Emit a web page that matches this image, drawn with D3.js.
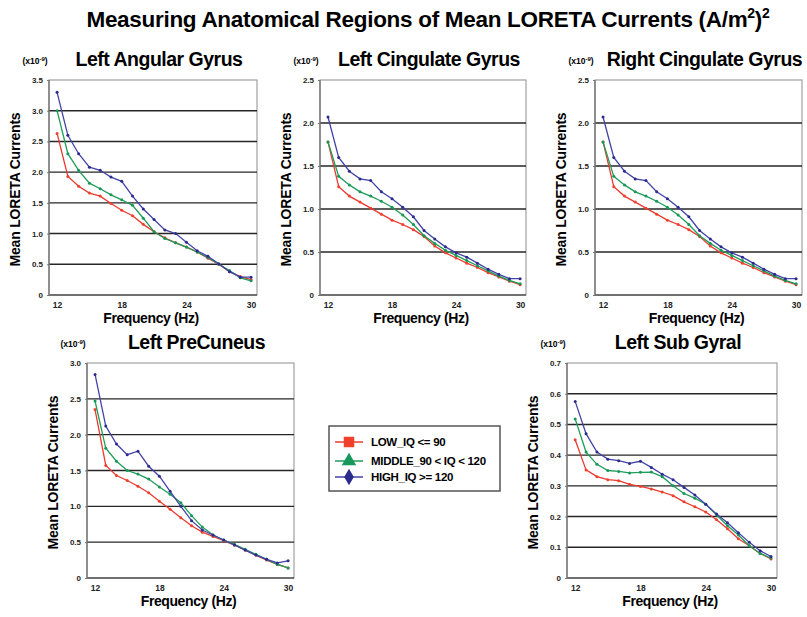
<!DOCTYPE html>
<html>
<head>
<meta charset="utf-8">
<script src="https://cdn.jsdelivr.net/npm/d3@7"></script>
<style>
  body { margin: 0; background: #fff; }
  text { font-family: "Liberation Sans", Arial, sans-serif; }
</style>
</head>
<body>
<div id="chart"></div>
<script>
var freqs = [12, 13, 14, 15, 16, 17, 18, 19, 20, 21, 22, 23, 24, 25, 26, 27, 28, 29, 30],
  xTicks = [12, 18, 24, 30],
  groups = ['LOW_IQ <= 90', 'MIDDLE_90 < IQ < 120', 'HIGH_IQ >= 120'],
  regions = ['Left Angular Gyrus', 'Left Cingulate Gyrus', 'Right Cingulate Gyrus', 'Left PreCuneus', 'Left Sub Gyral'];

// LOW, MIDDLE, HIGH per region
var angularLow = [2.63, 1.93, 1.77, 1.66, 1.61, 1.49, 1.38, 1.29, 1.15, 1.03, 0.93, 0.85, 0.78, 0.70, 0.60, 0.50, 0.38, 0.30, 0.25],
  angularMid = [3.00, 2.30, 2.03, 1.82, 1.73, 1.63, 1.55, 1.46, 1.25, 1.03, 0.92, 0.85, 0.78, 0.70, 0.61, 0.50, 0.40, 0.28, 0.23],
  angularHigh = [3.30, 2.60, 2.30, 2.08, 2.03, 1.92, 1.85, 1.61, 1.40, 1.23, 1.06, 1.00, 0.86, 0.72, 0.63, 0.51, 0.38, 0.29, 0.29];

var lCingLow = [1.78, 1.26, 1.15, 1.08, 1.01, 0.94, 0.87, 0.82, 0.76, 0.68, 0.57, 0.49, 0.43, 0.37, 0.32, 0.26, 0.21, 0.16, 0.12],
  lCingMid = [1.78, 1.38, 1.28, 1.20, 1.15, 1.09, 1.02, 0.93, 0.82, 0.69, 0.60, 0.52, 0.46, 0.40, 0.34, 0.28, 0.22, 0.17, 0.13],
  lCingHigh = [2.07, 1.60, 1.44, 1.35, 1.33, 1.20, 1.12, 1.02, 0.91, 0.75, 0.65, 0.56, 0.49, 0.44, 0.37, 0.30, 0.24, 0.19, 0.19];

var rCingLow = [1.78, 1.26, 1.15, 1.08, 1.01, 0.94, 0.87, 0.82, 0.76, 0.68, 0.57, 0.49, 0.43, 0.37, 0.32, 0.26, 0.21, 0.16, 0.12],
  rCingMid = [1.78, 1.38, 1.28, 1.20, 1.15, 1.09, 1.02, 0.93, 0.82, 0.69, 0.60, 0.52, 0.46, 0.40, 0.34, 0.28, 0.22, 0.17, 0.13],
  rCingHigh = [2.07, 1.60, 1.44, 1.35, 1.33, 1.20, 1.12, 1.02, 0.91, 0.75, 0.65, 0.56, 0.49, 0.44, 0.37, 0.30, 0.24, 0.19, 0.19];

var precunLow = [2.35, 1.57, 1.43, 1.36, 1.28, 1.19, 1.07, 0.96, 0.84, 0.73, 0.64, 0.58, 0.52, 0.46, 0.39, 0.32, 0.25, 0.19, 0.14],
  precunMid = [2.47, 1.81, 1.63, 1.50, 1.45, 1.38, 1.27, 1.17, 1.05, 0.87, 0.71, 0.60, 0.53, 0.47, 0.40, 0.33, 0.26, 0.19, 0.14],
  precunHigh = [2.84, 2.12, 1.87, 1.72, 1.77, 1.56, 1.42, 1.21, 1.00, 0.80, 0.67, 0.60, 0.53, 0.46, 0.39, 0.32, 0.26, 0.21, 0.24];

var subLow = [0.450, 0.352, 0.330, 0.320, 0.317, 0.305, 0.298, 0.290, 0.280, 0.268, 0.248, 0.232, 0.215, 0.190, 0.160, 0.128, 0.105, 0.080, 0.062],
  subMid = [0.518, 0.410, 0.370, 0.350, 0.347, 0.342, 0.344, 0.345, 0.330, 0.300, 0.275, 0.260, 0.240, 0.205, 0.170, 0.140, 0.105, 0.080, 0.065],
  subHigh = [0.575, 0.470, 0.410, 0.387, 0.382, 0.373, 0.380, 0.360, 0.338, 0.320, 0.295, 0.270, 0.240, 0.208, 0.180, 0.147, 0.116, 0.089, 0.070];

var yMaxes = [3.5, 2.5, 2.5, 3.0, 0.7],
  yTicks = [
    [0, 0.5, 1.0, 1.5, 2.0, 2.5, 3.0, 3.5],
    [0, 0.5, 1.0, 1.5, 2.0, 2.5],
    [0, 0.5, 1.0, 1.5, 2.0, 2.5],
    [0, 0.5, 1.0, 1.5, 2.0, 2.5, 3.0],
    [0, 0.1, 0.2, 0.3, 0.4, 0.5, 0.6, 0.7]
  ],
  seriesData = [
    [angularLow, angularMid, angularHigh],
    [lCingLow, lCingMid, lCingHigh],
    [rCingLow, rCingMid, rCingHigh],
    [precunLow, precunMid, precunHigh],
    [subLow, subMid, subHigh]
  ];

var width = 807,
  height = 617,
  colors = ['#ea3a30', '#1f9d57', '#4343a8'],
  markColors = ['#f0402c', '#15985a', '#2b2b8e'];

// plot boxes [left, top, width, height]
var boxes = [
  [49, 80, 208, 215],
  [320, 80, 206, 215],
  [595, 80, 207, 215],
  [87, 363, 207, 215],
  [567, 363, 210, 215]
];

var svg = d3.select('#chart')
  .append('svg')
  .attr('width', width)
  .attr('height', height);

svg.append('text')
  .attr('x', 428)
  .attr('y', 27)
  .attr('text-anchor', 'middle')
  .style('font-size', '22.5px')
  .style('font-weight', 'bold')
  .style('letter-spacing', '-0.3px')
  .html('Measuring Anatomical Regions of Mean LORETA Currents (A/m<tspan dy="-9" font-size="14">2</tspan><tspan dy="9">)</tspan><tspan dy="-9" font-size="14">2</tspan>');

regions.forEach(function(name, i) {
  var b = boxes[i];
  var g = svg.append('g').attr('transform', 'translate(' + b[0] + ',' + b[1] + ')');

  var x = d3.scaleLinear().domain([11.25, 30.55]).range([0, b[2]]);
  var y = d3.scaleLinear().domain([0, yMaxes[i]]).range([b[3], 0]);

  g.append('rect')
    .attr('width', b[2])
    .attr('height', b[3])
    .attr('fill', '#fff')
    .attr('stroke', '#a0a0a0')
    .attr('stroke-width', 1.2);

  // grid lines
  g.selectAll('.grid')
    .data(yTicks[i].slice(1, -1))
    .enter().append('line')
    .attr('x1', 0)
    .attr('x2', b[2])
    .attr('y1', function(d){ return y(d); })
    .attr('y2', function(d){ return y(d); })
    .attr('stroke', '#262626')
    .attr('stroke-width', 1.4);

  g.append('line')
    .attr('x1', 0).attr('x2', b[2])
    .attr('y1', b[3]).attr('y2', b[3])
    .attr('stroke', '#555')
    .attr('stroke-width', 1.6);
  g.append('line')
    .attr('x1', 0).attr('x2', 0)
    .attr('y1', 0).attr('y2', b[3])
    .attr('stroke', '#777')
    .attr('stroke-width', 1.4);

  var yAxis = g.append('g')
    .call(d3.axisLeft(y).tickValues(yTicks[i]).tickSize(2).tickPadding(4)
      .tickFormat(function(d){ return d === 0 ? '0' : d3.format('.1f')(d); }));
  yAxis.select('.domain').remove();
  yAxis.selectAll('text').style('font-size', '8px').style('font-weight', 'bold').attr('fill', '#222');
  yAxis.selectAll('line').attr('stroke', '#777');

  var xAxis = g.append('g')
    .attr('transform', 'translate(0,' + b[3] + ')')
    .call(d3.axisBottom(x).tickValues(xTicks).tickSize(0).tickPadding(7));
  xAxis.select('.domain').remove();
  xAxis.selectAll('text').style('font-size', '8.5px').style('font-weight', 'bold').attr('fill', '#222');

  var line = d3.line()
    .x(function(d, j){ return x(freqs[j]); })
    .y(function(d){ return y(d); });

  seriesData[i].forEach(function(vals, k) {
    g.append('path')
      .datum(vals)
      .attr('fill', 'none')
      .attr('stroke', colors[k])
      .attr('stroke-width', 1.3)
      .attr('d', line);
    g.selectAll('.pt' + k)
      .data(vals)
      .enter().append('circle')
      .attr('cx', function(d, j){ return x(freqs[j]); })
      .attr('cy', function(d){ return y(d); })
      .attr('r', 1.5)
      .attr('fill', markColors[k]);
  });

  // titles and labels
  svg.append('text')
    .attr('x', b[0] + b[2] / 2 + 6)
    .attr('y', b[1] - 14)
    .attr('text-anchor', 'middle')
    .style('font-size', '19.5px')
    .style('font-weight', 'bold')
    .style('letter-spacing', '-0.5px')
    .text(name);

  svg.append('text')
    .attr('x', b[0] - 14)
    .attr('y', b[1] - 16)
    .attr('text-anchor', 'middle')
    .style('font-size', '8.5px')
    .style('font-weight', 'bold')
    .html('(x10<tspan dy="-3" font-size="6">-9</tspan><tspan dy="3">)</tspan>');

  svg.append('text')
    .attr('transform', 'translate(' + (b[0] - 29) + ',' + (b[1] + b[3] / 2 + 2) + ') rotate(-90)')
    .attr('text-anchor', 'middle')
    .style('font-size', '14px')
    .style('font-weight', 'bold')
    .style('letter-spacing', '-0.2px')
    .text('Mean LORETA Currents');

  svg.append('text')
    .attr('x', b[0] + b[2] / 2 - 2)
    .attr('y', b[1] + b[3] + 28)
    .attr('text-anchor', 'middle')
    .style('font-size', '14px')
    .style('font-weight', 'bold')
    .style('letter-spacing', '-0.4px')
    .text('Frequency (Hz)');
});

// legend
var legend = svg.append('g').attr('transform', 'translate(329,426)');
legend.append('rect')
  .attr('width', 171)
  .attr('height', 65)
  .attr('fill', '#fff')
  .attr('stroke', '#555')
  .attr('stroke-width', 1.5);

var legendY = [16, 35, 51];
groups.forEach(function(label, k) {
  var row = legend.append('g').attr('transform', 'translate(0,' + legendY[k] + ')');
  row.append('line')
    .attr('x1', 6).attr('x2', 34)
    .attr('stroke', colors[k])
    .attr('stroke-width', 1.5);
  var sym = [d3.symbolSquare, d3.symbolTriangle, d3.symbolDiamond][k];
  row.append('path')
    .attr('transform', 'translate(20,0)')
    .attr('d', d3.symbol().type(sym).size([110, 90, 80][k]))
    .attr('fill', markColors[k]);
  row.append('text')
    .attr('x', 42)
    .attr('y', 4)
    .style('font-size', '11.5px')
    .style('font-weight', 'bold')
    .style('letter-spacing', '-0.3px')
    .text(label);
});
</script>
</body>
</html>
